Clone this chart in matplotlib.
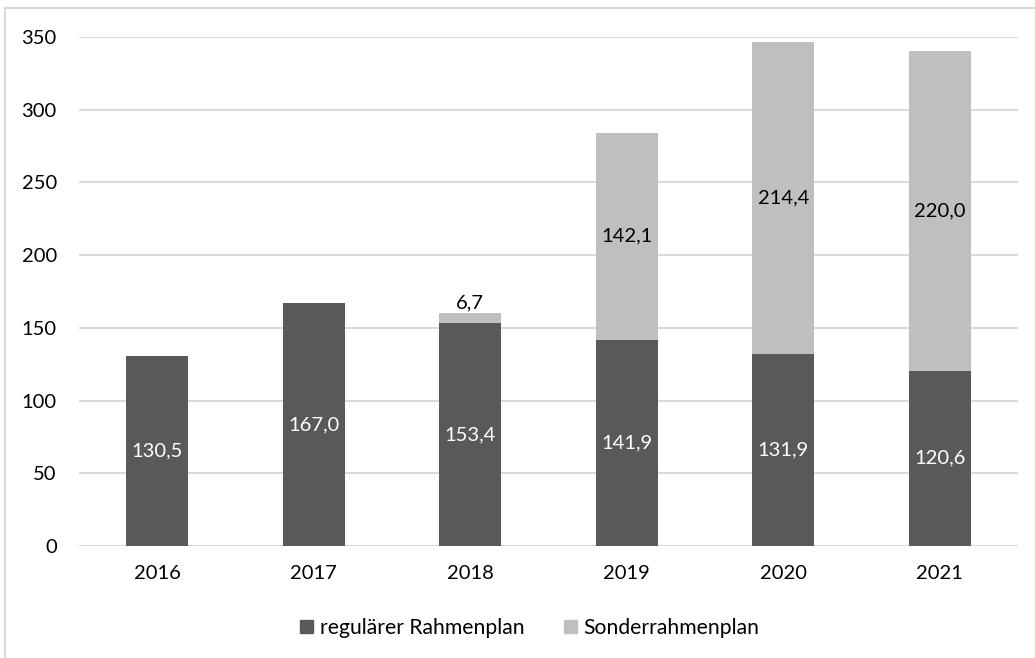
import matplotlib
matplotlib.use("Agg")
import matplotlib.pyplot as plt
from matplotlib.lines import Line2D
from matplotlib.patches import Patch

years = ["2016", "2017", "2018", "2019", "2020", "2021"]
regular = [130.5, 167.0, 153.4, 141.9, 131.9, 120.6]
sonder = [0.0, 0.0, 6.7, 142.1, 214.4, 220.0]
regular_labels = ["130,5", "167,0", "153,4", "141,9", "131,9", "120,6"]
sonder_labels = ["", "", "6,7", "142,1", "214,4", "220,0"]
series_names = ["regulärer Rahmenplan", "Sonderrahmenplan"]
yticks = [0, 50, 100, 150, 200, 250, 300, 350]

plt.rcParams['font.family'] = ['Lato', 'DejaVu Sans']
dark = "#595959"
light = "#BFBFBF"
grid = "#D9D9D9"

fig = plt.figure(figsize=(10.35, 6.58), dpi=100)
ax = fig.add_axes([79/1035, 1-546/658, (1018-79)/1035, (546-37)/658])

x = list(range(len(years)))
w = 0.396
ax.bar(x, regular, width=w, color=dark, zorder=3)
ax.bar(x, sonder, width=w, bottom=regular, color=light, zorder=3)

fs = 14.5
for i in x:
    ax.text(i, regular[i] / 2, regular_labels[i], ha="center", va="center",
            color="white", fontsize=fs, zorder=4)
    if sonder_labels[i]:
        if sonder[i] < 20:
            ax.text(i, regular[i] + sonder[i] + 1.5, sonder_labels[i], ha="center",
                    va="bottom", color="black", fontsize=fs, zorder=4)
        else:
            ax.text(i, regular[i] + sonder[i] / 2, sonder_labels[i], ha="center",
                    va="center", color="black", fontsize=fs, zorder=4)

ax.set_xlim(-0.5, len(years) - 0.5)
ax.set_ylim(0, 350)
ax.set_yticks(yticks)
ax.set_yticklabels([str(v) for v in yticks])
ax.set_xticks(x)
ax.set_xticklabels(years)
ax.tick_params(axis="both", length=0, labelsize=fs, colors="black")
ax.tick_params(axis="y", pad=16)
ax.tick_params(axis="x", pad=14)
for s in ax.spines.values():
    s.set_visible(False)
ax.yaxis.grid(True, color=grid, linewidth=1.5, zorder=0)
ax.set_axisbelow(True)

handles = [Patch(color=dark), Patch(color=light)]
fig.legend(handles, series_names, loc="center", bbox_to_anchor=(0.512, 1-628/658),
           ncol=2, frameon=False, fontsize=15.2, handlelength=0.62, handleheight=0.62,
           handletextpad=0.3, columnspacing=1.9)

fig.add_artist(Line2D([5/1035, 5/1035], [0, 1-8/658], color=grid, linewidth=1.5,
                      transform=fig.transFigure))
fig.add_artist(Line2D([5/1035, 1], [1-8/658, 1-8/658], color=grid, linewidth=1.5,
                      transform=fig.transFigure))

fig.savefig("out.png", dpi=100)
